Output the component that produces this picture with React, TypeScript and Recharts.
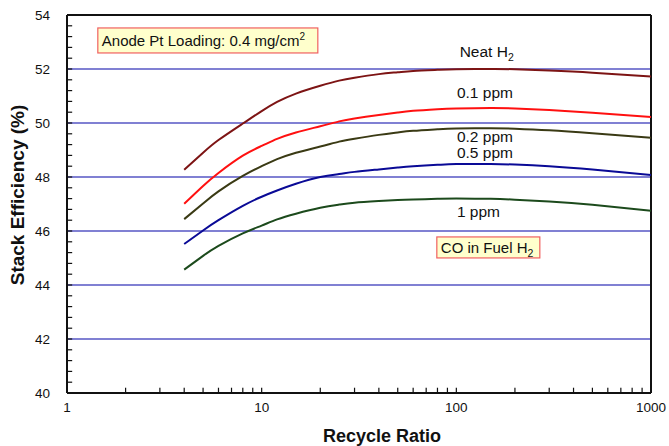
import React from 'react';
import {
  LineChart,
  Line,
  XAxis,
  YAxis,
  CartesianGrid,
  ReferenceLine,
  ReferenceDot,
} from 'recharts';

// ---- data ----
const recycleRatios = [4, 5, 6, 8, 10, 12, 15, 20, 25, 30, 40, 50, 60, 80, 100, 150, 200, 300, 500, 1000];
const neatH2 = [48.27, 48.9, 49.37, 49.98, 50.44, 50.78, 51.09, 51.38, 51.57, 51.68, 51.81, 51.88, 51.93, 51.97, 51.99, 52.0, 51.99, 51.94, 51.86, 51.72];
const ppm01 = [47.01, 47.67, 48.15, 48.79, 49.15, 49.41, 49.65, 49.88, 50.06, 50.17, 50.3, 50.39, 50.45, 50.51, 50.54, 50.56, 50.54, 50.48, 50.38, 50.22];
const ppm02 = [46.44, 47.02, 47.47, 48.04, 48.4, 48.66, 48.9, 49.13, 49.31, 49.42, 49.56, 49.65, 49.71, 49.77, 49.8, 49.81, 49.79, 49.73, 49.62, 49.45];
const ppm05 = [45.52, 46.02, 46.4, 46.93, 47.27, 47.5, 47.75, 48.0, 48.11, 48.19, 48.28, 48.35, 48.4, 48.45, 48.48, 48.48, 48.46, 48.4, 48.28, 48.07];
const ppm1 = [44.57, 45.08, 45.45, 45.91, 46.2, 46.43, 46.64, 46.86, 46.98, 47.05, 47.11, 47.15, 47.17, 47.19, 47.2, 47.19, 47.16, 47.09, 46.97, 46.75];

const xTicks = [1, 10, 100, 1000];
const xMinorTicks = [2, 3, 4, 5, 6, 7, 8, 9, 10, 20, 30, 40, 50, 60, 70, 80, 90, 100, 200, 300, 400, 500, 600, 700, 800, 900];
const yTicks = [40, 42, 44, 46, 48, 50, 52, 54];
const yMinorTicks = [
  40.4, 40.8, 41.2, 41.6, 42, 42.4, 42.8, 43.2, 43.6, 44, 44.4, 44.8, 45.2, 45.6, 46, 46.4, 46.8, 47.2, 47.6, 48,
  48.4, 48.8, 49.2, 49.6, 50, 50.4, 50.8, 51.2, 51.6, 52, 52.4, 52.8, 53.2, 53.6,
];
const gridValues = [42, 44, 46, 48, 50, 52];

const seriesLabels = [
  { key: 'neat', main: 'Neat H', sub: '2', x: 104, y: 52.44 },
  { key: 'p01', main: '0.1 ppm', sub: '', x: 100.7, y: 50.93 },
  { key: 'p02', main: '0.2 ppm', sub: '', x: 100.7, y: 49.3 },
  { key: 'p05', main: '0.5 ppm', sub: '', x: 100.7, y: 48.7 },
  { key: 'p1', main: '1 ppm', sub: '', x: 100.7, y: 46.52 },
];

const data = recycleRatios.map((r, i) => ({
  r,
  neat: neatH2[i],
  p01: ppm01[i],
  p02: ppm02[i],
  p05: ppm05[i],
  p1: ppm1[i],
}));

const FONT = '"Liberation Sans", Arial, Helvetica, sans-serif';
const GRID = '#5656c4';

const series = [
  { key: 'neat', color: '#7d1414' },
  { key: 'p01', color: '#ff1010' },
  { key: 'p02', color: '#3a3a14' },
  { key: 'p05', color: '#0a0a96' },
  { key: 'p1', color: '#1c4a1c' },
];

const XTitle = (props: any) => {
  const vb = props.viewBox || {};
  const cx = vb.x + vb.width / 2 + 23;
  return (
    <text x={cx} y={442} textAnchor="middle" fontFamily={FONT} fontWeight="bold" fontSize={18} fill="#111">
      Recycle Ratio
    </text>
  );
};

const YTitle = (props: any) => {
  const vb = props.viewBox || {};
  const cy = vb.y + vb.height / 2 - 9;
  return (
    <text
      x={24}
      y={cy}
      transform={`rotate(-90, 24, ${cy})`}
      textAnchor="middle"
      fontFamily={FONT}
      fontWeight="bold"
      fontSize={19}
      fill="#111"
    >
      Stack Efficiency (%)
    </text>
  );
};

const xTickShape = (p: any) => (
  <g>
    <rect x={p.cx - 0.6} y={p.cy - 5} width={1.2} height={5} fill="#111" />
  </g>
);
const yTickShape = (p: any) => (
  <g>
    <rect x={p.cx} y={p.cy - 0.6} width={5} height={1.2} fill="#111" />
  </g>
);

const makeLabelShape = (main: string, sub: string) => (p: any) => (
  <text x={p.cx} y={p.cy} fontFamily={FONT} fontSize={15.5} fill="#111">
    {main}
    {sub ? (
      <tspan fontSize={10.5} dy={4}>
        {sub}
      </tspan>
    ) : null}
  </text>
);

const anodeShape = (p: any) => (
  <g>
    <rect x={p.cx} y={p.cy} width={220} height={25} fill="#ffffcc" stroke="#f06060" strokeWidth={1.2} />
    <text x={p.cx + 4} y={p.cy + 18} fontFamily={FONT} fontSize={15} fill="#111">
      Anode Pt Loading: 0.4 mg/cm
      <tspan fontSize={10} dy={-6}>
        2
      </tspan>
    </text>
  </g>
);

const coShape = (p: any) => (
  <g>
    <rect x={p.cx} y={p.cy} width={103} height={21} fill="#ffffcc" stroke="#f06060" strokeWidth={1.2} />
    <text x={p.cx + 4} y={p.cy + 16} fontFamily={FONT} fontSize={15} fill="#111">
      CO in Fuel H
      <tspan fontSize={10.5} dy={4}>
        2
      </tspan>
    </text>
  </g>
);

export default function App() {
  return (
    <div style={{ position: 'absolute', left: 0, top: 0, width: 669, height: 446, background: '#fff' }}>
      <LineChart width={669} height={446} data={data} margin={{ top: 15, right: 18, bottom: 0, left: 0 }}>
        <CartesianGrid
          vertical={false}
          horizontalValues={gridValues}
          stroke={GRID}
          strokeWidth={1.5}
        />
        <XAxis
          dataKey="r"
          type="number"
          scale="log"
          domain={[1, 1000]}
          ticks={xTicks}
          allowDataOverflow
          height={53}
          tickLine={false}
          tickSize={6}
          tickMargin={3}
          axisLine={{ stroke: '#111', strokeWidth: 2 }}
          tick={{ fill: '#111', fontSize: 13.5, fontFamily: FONT }}
          label={<XTitle />}
        />
        <YAxis
          type="number"
          domain={[40, 54]}
          ticks={yTicks}
          allowDataOverflow
          width={67}
          tickLine={false}
          tickSize={6}
          tickMargin={11}
          axisLine={{ stroke: '#111', strokeWidth: 2 }}
          tick={{ fill: '#111', fontSize: 13.5, fontFamily: FONT }}
          label={<YTitle />}
        />
        <ReferenceLine y={54} stroke="#111" strokeWidth={2} />
        <ReferenceLine x={1000} stroke="#111" strokeWidth={2} />
        {series.map((s) => (
          <Line
            key={s.key}
            dataKey={s.key}
            type="natural"
            stroke={s.color}
            strokeWidth={2}
            dot={false}
            activeDot={false}
            isAnimationActive={false}
          />
        ))}
        {seriesLabels.map((l) => (
          <ReferenceDot
            key={'lbl' + l.key}
            x={l.x}
            y={l.y}
            r={0}
            shape={makeLabelShape(l.main, l.sub)}
          />
        ))}
        {xMinorTicks.map((t) => (
          <ReferenceDot key={'xm' + t} x={t} y={40.01} r={0} shape={xTickShape} />
        ))}
        {yMinorTicks.map((t) => (
          <ReferenceDot key={'ym' + t} x={1.002} y={t} r={0} shape={yTickShape} />
        ))}
        <ReferenceDot x={1.44} y={53.52} r={0} shape={anodeShape} />
        <ReferenceDot x={79.4} y={45.78} r={0} shape={coShape} />
      </LineChart>
    </div>
  );
}
